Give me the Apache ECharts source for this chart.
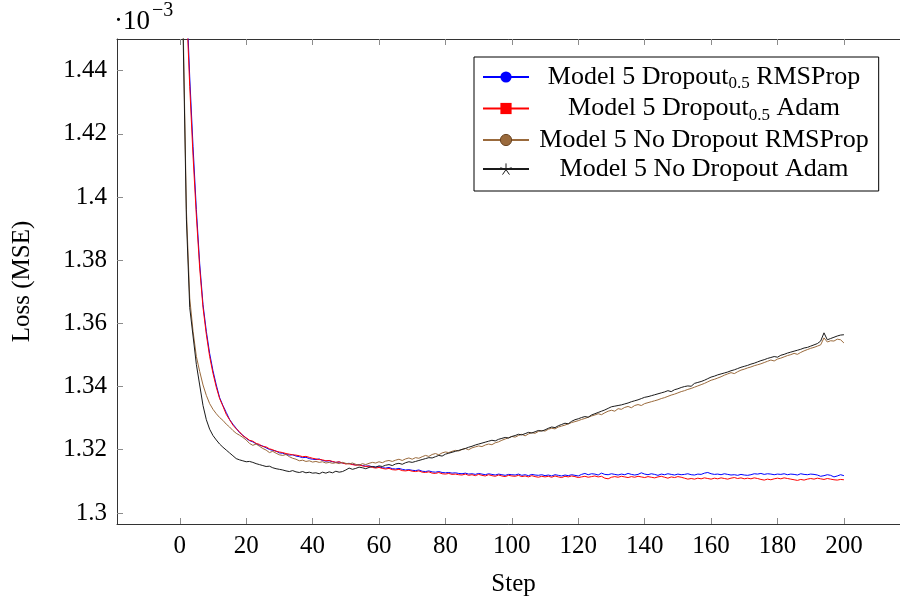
<!DOCTYPE html>
<html>
<head>
<meta charset="utf-8">
<script src="https://cdn.jsdelivr.net/npm/echarts@6/dist/echarts.min.js"></script>
<style>
html,body{margin:0;padding:0;background:#fff;}
#c{width:900px;height:599px;}
</style>
</head>
<body>
<div id="c"></div>
<script>
// Loss values (units of 1e-3), one per step starting at step 1
const dropRMSProp = [
1.4930,1.4640,1.4380,1.4160,1.3960,1.3790,1.3660,1.3575,1.3505,1.3450,
1.3405,1.3365,1.3340,1.3318,1.3296,1.3281,1.3268,1.3254,1.3246,1.3236,
1.3229,1.3225,1.3219,1.3214,1.3212,1.3206,1.3201,1.3198,1.3196,1.3190,
1.3189,1.3185,1.3183,1.3184,1.3180,1.3178,1.3175,1.3176,1.3172,1.3170,
1.3169,1.3171,1.3166,1.3164,1.3165,1.3162,1.3160,1.3161,1.3158,1.3156,
1.3157,1.3154,1.3152,1.3153,1.3150,1.3148,1.3149,1.3146,1.3145,1.3146,
1.3143,1.3142,1.3144,1.3140,1.3139,1.3141,1.3138,1.3136,1.3137,1.3135,
1.3134,1.3136,1.3132,1.3131,1.3133,1.3130,1.3129,1.3131,1.3128,1.3127,
1.3128,1.3126,1.3127,1.3125,1.3124,1.3126,1.3123,1.3124,1.3122,1.3125,
1.3123,1.3121,1.3124,1.3122,1.3120,1.3123,1.3121,1.3119,1.3122,1.3121,
1.3120,1.3123,1.3119,1.3121,1.3118,1.3122,1.3120,1.3119,1.3121,1.3118,
1.3120,1.3117,1.3121,1.3119,1.3117,1.3120,1.3118,1.3121,1.3119,1.3117,
1.3122,1.3125,1.3121,1.3124,1.3123,1.3120,1.3126,1.3122,1.3121,1.3124,
1.3122,1.3120,1.3123,1.3121,1.3125,1.3122,1.3120,1.3122,1.3127,1.3123,
1.3121,1.3124,1.3122,1.3119,1.3123,1.3121,1.3124,1.3122,1.3120,1.3123,
1.3121,1.3122,1.3124,1.3121,1.3120,1.3123,1.3122,1.3126,1.3128,1.3124,
1.3122,1.3123,1.3121,1.3124,1.3122,1.3120,1.3121,1.3119,1.3122,1.3120,
1.3119,1.3121,1.3124,1.3123,1.3125,1.3122,1.3124,1.3123,1.3121,1.3123,
1.3122,1.3124,1.3121,1.3123,1.3122,1.3120,1.3124,1.3122,1.3121,1.3123,
1.3122,1.3120,1.3116,1.3118,1.3121,1.3119,1.3114,1.3117,1.3121,1.3118
];
const dropAdam = [
1.4900,1.4610,1.4350,1.4130,1.3940,1.3775,1.3650,1.3565,1.3495,1.3442,
1.3398,1.3362,1.3338,1.3312,1.3295,1.3278,1.3266,1.3257,1.3244,1.3238,
1.3230,1.3227,1.3220,1.3217,1.3210,1.3209,1.3203,1.3200,1.3195,1.3193,
1.3191,1.3188,1.3186,1.3184,1.3183,1.3181,1.3178,1.3179,1.3176,1.3173,
1.3171,1.3169,1.3168,1.3165,1.3166,1.3163,1.3160,1.3162,1.3158,1.3155,
1.3156,1.3153,1.3151,1.3152,1.3149,1.3147,1.3148,1.3144,1.3142,1.3144,
1.3141,1.3139,1.3141,1.3137,1.3136,1.3138,1.3134,1.3133,1.3135,1.3132,
1.3131,1.3133,1.3129,1.3128,1.3130,1.3126,1.3125,1.3128,1.3124,1.3123,
1.3125,1.3122,1.3123,1.3121,1.3120,1.3123,1.3119,1.3121,1.3118,1.3122,
1.3119,1.3117,1.3121,1.3118,1.3116,1.3120,1.3117,1.3115,1.3119,1.3117,
1.3116,1.3119,1.3115,1.3117,1.3114,1.3118,1.3115,1.3113,1.3116,1.3114,
1.3116,1.3113,1.3117,1.3114,1.3112,1.3116,1.3114,1.3117,1.3115,1.3112,
1.3114,1.3116,1.3113,1.3115,1.3117,1.3114,1.3116,1.3110,1.3108,1.3113,
1.3115,1.3113,1.3116,1.3114,1.3112,1.3115,1.3113,1.3116,1.3114,1.3112,
1.3115,1.3113,1.3111,1.3114,1.3116,1.3113,1.3110,1.3114,1.3112,1.3115,
1.3113,1.3110,1.3107,1.3109,1.3107,1.3110,1.3108,1.3111,1.3109,1.3107,
1.3110,1.3108,1.3111,1.3109,1.3107,1.3110,1.3112,1.3109,1.3111,1.3108,
1.3110,1.3108,1.3111,1.3109,1.3106,1.3104,1.3107,1.3105,1.3108,1.3110,
1.3108,1.3111,1.3109,1.3107,1.3105,1.3103,1.3106,1.3104,1.3107,1.3109,
1.3107,1.3110,1.3108,1.3106,1.3109,1.3107,1.3105,1.3104,1.3106,1.3105
];
const noDropRMSProp = [
1.4560,1.3960,1.3680,1.3575,1.3495,1.3448,1.3405,1.3372,1.3346,1.3328,
1.3314,1.3302,1.3293,1.3281,1.3272,1.3261,1.3252,1.3246,1.3239,1.3231,
1.3220,1.3214,1.3218,1.3211,1.3204,1.3199,1.3191,1.3195,1.3189,1.3184,
1.3182,1.3185,1.3178,1.3173,1.3170,1.3165,1.3167,1.3163,1.3165,1.3161,
1.3163,1.3160,1.3162,1.3158,1.3160,1.3157,1.3159,1.3156,1.3160,1.3157,
1.3155,1.3158,1.3154,1.3151,1.3156,1.3153,1.3157,1.3160,1.3158,1.3162,
1.3159,1.3164,1.3166,1.3163,1.3167,1.3170,1.3166,1.3171,1.3174,1.3170,
1.3175,1.3173,1.3178,1.3182,1.3179,1.3185,1.3188,1.3184,1.3190,1.3193,
1.3191,1.3195,1.3198,1.3196,1.3201,1.3204,1.3200,1.3206,1.3209,1.3212,
1.3210,1.3215,1.3218,1.3216,1.3222,1.3225,1.3230,1.3234,1.3238,1.3242,
1.3240,1.3245,1.3249,1.3244,1.3250,1.3254,1.3252,1.3258,1.3261,1.3259,
1.3265,1.3268,1.3266,1.3272,1.3275,1.3278,1.3282,1.3286,1.3289,1.3292,
1.3296,1.3299,1.3303,1.3307,1.3310,1.3314,1.3311,1.3317,1.3322,1.3325,
1.3322,1.3330,1.3328,1.3334,1.3337,1.3333,1.3340,1.3343,1.3340,1.3346,
1.3349,1.3352,1.3355,1.3358,1.3362,1.3365,1.3369,1.3373,1.3376,1.3380,
1.3384,1.3387,1.3391,1.3394,1.3398,1.3402,1.3406,1.3410,1.3415,1.3420,
1.3423,1.3427,1.3431,1.3436,1.3440,1.3444,1.3441,1.3447,1.3452,1.3455,
1.3459,1.3462,1.3466,1.3469,1.3472,1.3476,1.3480,1.3484,1.3481,1.3487,
1.3490,1.3494,1.3498,1.3501,1.3505,1.3502,1.3508,1.3513,1.3517,1.3521,
1.3524,1.3528,1.3532,1.3554,1.3541,1.3545,1.3544,1.3550,1.3548,1.3538
];
const noDropAdam = [
1.4520,1.3930,1.3650,1.3560,1.3470,1.3405,1.3340,1.3295,1.3265,1.3245,
1.3231,1.3218,1.3208,1.3199,1.3190,1.3181,1.3172,1.3168,1.3165,1.3162,
1.3163,1.3160,1.3156,1.3153,1.3150,1.3147,1.3148,1.3143,1.3140,1.3138,
1.3136,1.3133,1.3131,1.3134,1.3130,1.3128,1.3131,1.3127,1.3129,1.3126,
1.3127,1.3124,1.3129,1.3126,1.3130,1.3127,1.3132,1.3129,1.3131,1.3136,
1.3142,1.3138,1.3141,1.3145,1.3143,1.3140,1.3144,1.3147,1.3145,1.3149,
1.3147,1.3151,1.3153,1.3150,1.3155,1.3157,1.3154,1.3159,1.3162,1.3160,
1.3163,1.3166,1.3169,1.3172,1.3175,1.3174,1.3178,1.3182,1.3180,1.3186,
1.3189,1.3192,1.3195,1.3198,1.3201,1.3204,1.3208,1.3211,1.3215,1.3218,
1.3221,1.3224,1.3227,1.3230,1.3228,1.3233,1.3236,1.3239,1.3237,1.3242,
1.3245,1.3249,1.3247,1.3251,1.3255,1.3253,1.3257,1.3261,1.3259,1.3263,
1.3268,1.3272,1.3270,1.3276,1.3280,1.3284,1.3282,1.3290,1.3295,1.3298,
1.3302,1.3305,1.3303,1.3310,1.3314,1.3318,1.3322,1.3326,1.3331,1.3336,
1.3338,1.3340,1.3342,1.3345,1.3348,1.3352,1.3355,1.3358,1.3362,1.3366,
1.3368,1.3371,1.3374,1.3377,1.3380,1.3383,1.3387,1.3384,1.3390,1.3393,
1.3397,1.3400,1.3402,1.3401,1.3410,1.3413,1.3416,1.3420,1.3425,1.3430,
1.3433,1.3437,1.3440,1.3443,1.3446,1.3450,1.3453,1.3457,1.3461,1.3464,
1.3467,1.3471,1.3474,1.3478,1.3482,1.3485,1.3489,1.3492,1.3495,1.3493,
1.3499,1.3502,1.3506,1.3509,1.3512,1.3515,1.3518,1.3522,1.3524,1.3528,
1.3532,1.3536,1.3544,1.3570,1.3548,1.3552,1.3556,1.3560,1.3563,1.3564
];
const firstStep = 1;
const xTicks = [0, 20, 40, 60, 80, 100, 120, 140, 160, 180, 200];
const yTicks = [1.3, 1.32, 1.34, 1.36, 1.38, 1.4, 1.42, 1.44];
const seriesNames = [
  'Model 5 Dropout0.5 RMSProp',
  'Model 5 Dropout0.5 Adam',
  'Model 5 No Dropout RMSProp',
  'Model 5 No Dropout Adam'
];
const seriesValues = [dropRMSProp, dropAdam, noDropRMSProp, noDropAdam];
const seriesColors = ['#0000ff', '#ff0000', '#9a6a3c', '#1a1a1a'];
const starPath = 'path://M0,0L0,-10M0,0L9.51,-3.09M0,0L5.88,8.09M0,0L-5.88,8.09M0,0L-9.51,-3.09';
const seriesSymbols = ['circle', 'rect', 'circle', starPath];

const FONT = '"Liberation Serif", "Times New Roman", serif';

function toPairs(arr) { return arr.map((v, i) => [firstStep + i, v]); }

const chart = echarts.init(document.getElementById('c'), null, {renderer: 'canvas'});

const series = seriesNames.map((name, k) => ({
  name: name,
  type: 'line',
  data: toPairs(seriesValues[k]),
  symbol: seriesSymbols[k],
  showSymbol: false,
  smooth: false,
  clip: true,
  lineStyle: {color: seriesColors[k], width: 1},
  itemStyle: {color: seriesColors[k]},
  emphasis: {disabled: true},
  animation: false
}));

function legendFmt(name) {
  const m = name.match(/^(.*Dropout)(0\.5)(.*)$/);
  if (m) return '{t|' + m[1] + '}{s|' + m[2] + '}{t|' + m[3] + '}';
  return '{t|' + name + '}';
}

const legendData = seriesNames.map((n, k) => {
  if (k === 3) {
    return {name: n, itemStyle: {color: 'none', borderColor: '#1a1a1a', borderWidth: 1}};
  }
  if (k === 2) {
    return {name: n, itemStyle: {color: '#9a6a3c', borderColor: '#6b4522', borderWidth: 1}};
  }
  return {name: n};
});

const axisLineStyle = {color: '#333', width: 1};
const tickStyle = {color: '#8c8c8c', width: 1};

const option = {
  animation: false,
  backgroundColor: '#fff',
  grid: {left: 117, top: 39, width: 793, height: 485, containLabel: false, outerBoundsMode: 'none'},
  xAxis: [{
    type: 'value', min: -18.9, max: 219.9, position: 'bottom',
    axisLine: {show: true, lineStyle: axisLineStyle, onZero: false},
    axisTick: {show: true, inside: true, length: 6, lineStyle: tickStyle, customValues: xTicks},
    axisLabel: {show: true, customValues: xTicks, margin: 10, fontFamily: FONT, fontSize: 25, color: '#000'},
    splitLine: {show: false},
    name: 'Step', nameLocation: 'middle', nameGap: 48,
    nameTextStyle: {fontFamily: FONT, fontSize: 25, color: '#000'}
  }, {
    type: 'value', min: -18.9, max: 219.9, position: 'top',
    axisLine: {show: true, lineStyle: axisLineStyle, onZero: false},
    axisTick: {show: true, inside: true, length: 6, lineStyle: tickStyle, customValues: xTicks},
    axisLabel: {show: false},
    splitLine: {show: false}
  }],
  yAxis: [{
    type: 'value', min: 1.2965, max: 1.45, position: 'left',
    axisLine: {show: true, lineStyle: axisLineStyle, onZero: false},
    axisTick: {show: true, inside: true, length: 6, lineStyle: tickStyle, customValues: yTicks},
    axisLabel: {show: true, customValues: yTicks, margin: 10, fontFamily: FONT, fontSize: 25, color: '#000'},
    splitLine: {show: false},
    name: 'Loss (MSE)', nameLocation: 'middle', nameGap: 82,
    nameTextStyle: {fontFamily: FONT, fontSize: 25, color: '#000'}
  }, {
    type: 'value', min: 1.2965, max: 1.45, position: 'right',
    axisLine: {show: true, lineStyle: axisLineStyle, onZero: false},
    axisTick: {show: true, inside: true, length: 6, lineStyle: tickStyle, customValues: yTicks},
    axisLabel: {show: false},
    splitLine: {show: false}
  }],
  legend: {
    show: true,
    orient: 'vertical',
    left: 474, top: 57,
    padding: [7, 10, 9, 8],
    itemGap: 3,
    itemWidth: 46,
    itemHeight: 14,
    itemTextGap: 5,
    backgroundColor: '#fff',
    borderColor: '#000',
    borderWidth: 1,
    borderRadius: 0,
    selectedMode: false,
    data: legendData,
    formatter: legendFmt,
    textStyle: {
      width: 340,
      fontFamily: FONT, fontSize: 26, color: '#000',
      rich: {
        t: {fontFamily: FONT, fontSize: 26, lineHeight: 24, height: 24, color: '#000', align: 'center'},
        s: {fontFamily: FONT, fontSize: 17, lineHeight: 10, height: 10, padding: [14, 0, 0, 0], color: '#000', align: 'center'}
      }
    }
  },
  graphic: [{
    type: 'text', left: 114, top: 0,
    style: {
      text: '{a|·10}{b|−3}',
      rich: {
        a: {fontFamily: FONT, fontSize: 27, lineHeight: 32, color: '#000', padding: [8, 0, 0, 0]},
        b: {fontFamily: FONT, fontSize: 20, lineHeight: 20, color: '#000', padding: [0, 0, 14, 2]}
      }
    }
  }],
  series: series
};

chart.setOption(option);
</script>
</body>
</html>
